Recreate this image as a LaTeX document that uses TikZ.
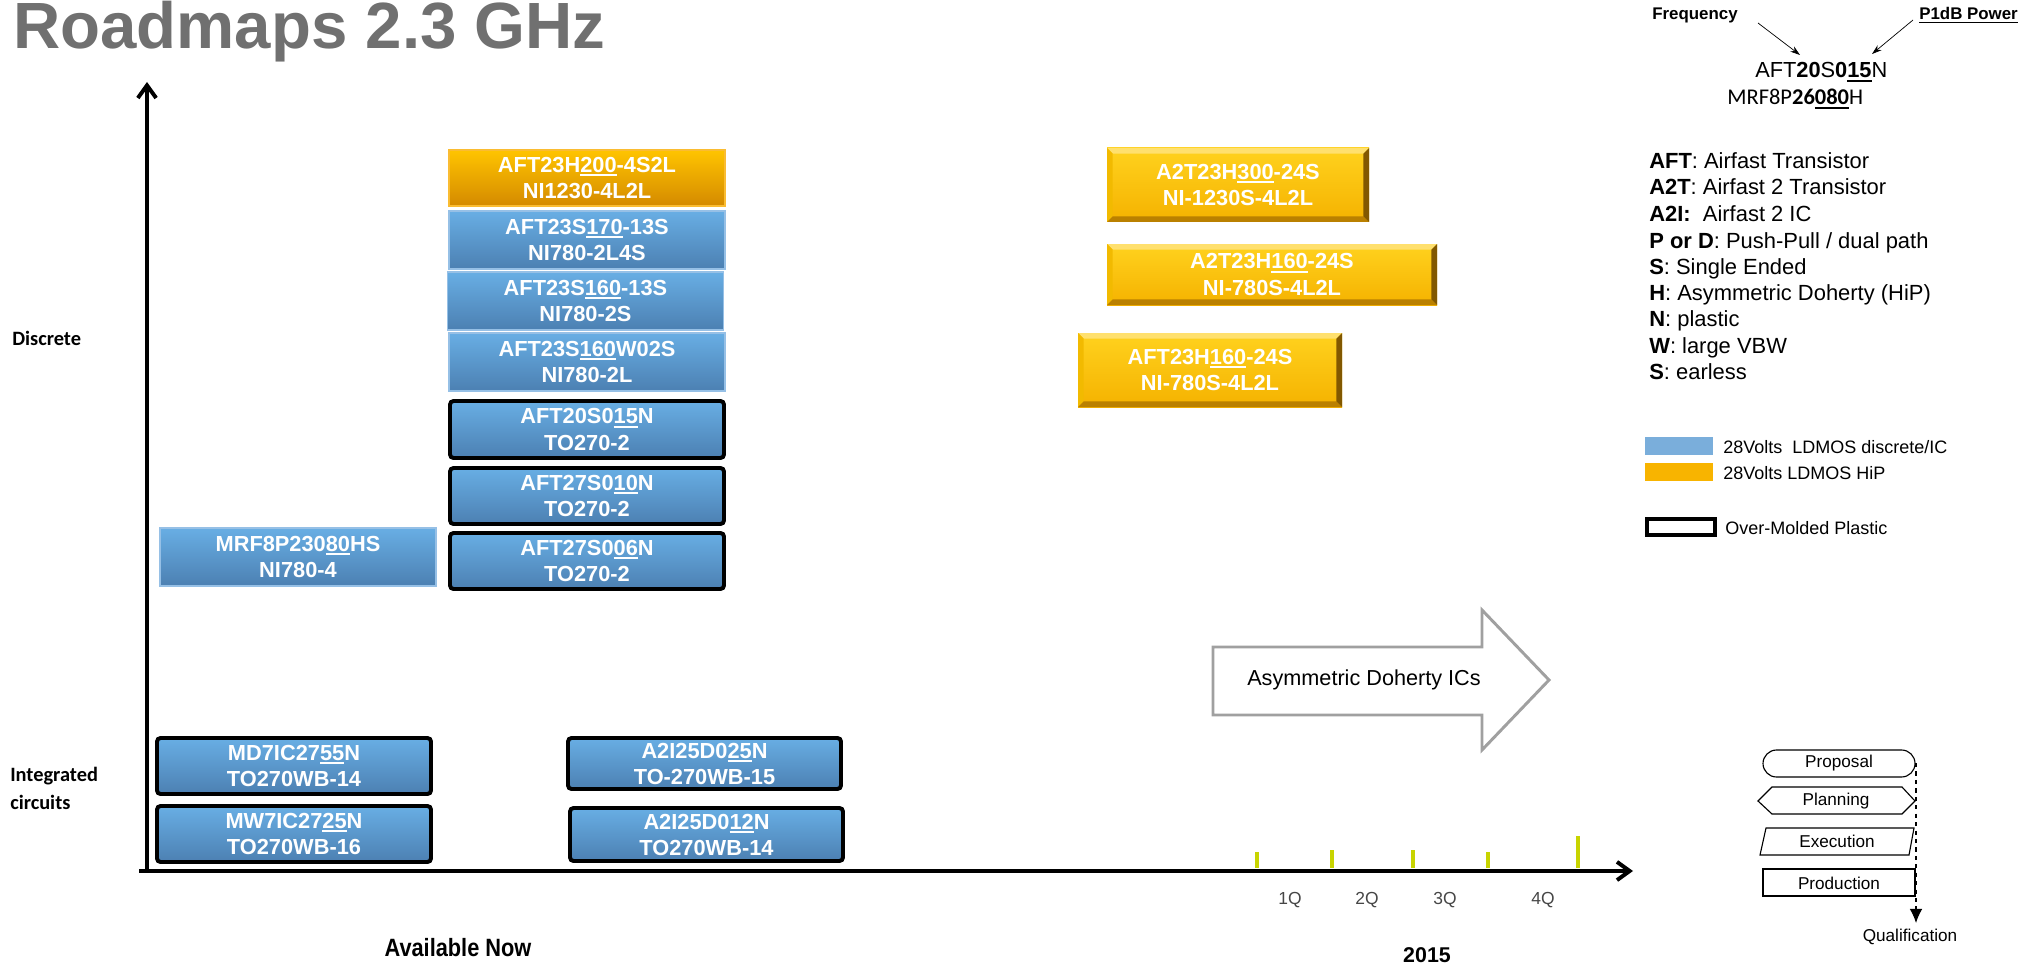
\documentclass[tikz,border=0pt]{standalone}
\usepackage{fontspec}
\setmainfont{Liberation Sans}
\newfontfamily\calibri{Carlito}
\usetikzlibrary{arrows.meta}

\definecolor{titlegray}{RGB}{112,112,112}
\definecolor{bluetop}{RGB}{104,174,228}
\definecolor{bluebot}{RGB}{76,128,178}
\definecolor{blueedge}{RGB}{150,192,230}
\definecolor{hiptop}{RGB}{255,196,0}
\definecolor{hipbot}{RGB}{212,138,0}
\definecolor{hipedge}{RGB}{250,188,50}
\definecolor{goldtop}{RGB}{255,210,30}
\definecolor{goldbot}{RGB}{245,178,0}
\definecolor{goldlight}{RGB}{255,224,110}
\definecolor{goldmid}{RGB}{242,186,0}
\definecolor{golddark}{RGB}{186,128,0}
\definecolor{goldshade}{RGB}{130,88,0}
\definecolor{swatchblue}{RGB}{122,174,219}
\definecolor{swatchgold}{RGB}{248,180,0}
\definecolor{tickgreen}{RGB}{200,212,0}
\definecolor{arrowgray}{RGB}{160,160,160}
\definecolor{qgray}{RGB}{70,70,70}

% thick bar under the power digits
\newcommand\pwr[1]{\setbox0\hbox{#1}\rlap{\rule[-2.6pt]{\wd0}{1.3pt}}\box0}

\tikzset{
  wh/.style 2 args={minimum width=#1*0.025cm, minimum height=#2*0.025cm},
  part/.style={rectangle, inner sep=0pt, align=center, text=white,
    font=\fontsize{15.5}{18.5}\selectfont\bfseries},
  ldmos/.style={part, top color=bluetop, bottom color=bluebot, draw=blueedge, line width=1.2pt},
  molded/.style={part, top color=bluetop, bottom color=bluebot, draw=black, line width=2.8pt, rounded corners=2.5pt},
  hipflat/.style={part, top color=hiptop, bottom color=hipbot, draw=hipedge, line width=1.2pt},
  hip/.style={part, top color=goldtop, bottom color=goldbot,
    path picture={
      \fill[goldlight] (path picture bounding box.north west) -- (path picture bounding box.north east)
        -- ([xshift=-4pt,yshift=-4pt]path picture bounding box.north east)
        -- ([xshift=4pt,yshift=-4pt]path picture bounding box.north west) -- cycle;
      \fill[goldmid] (path picture bounding box.north west) -- (path picture bounding box.south west)
        -- ([xshift=4pt,yshift=4pt]path picture bounding box.south west)
        -- ([xshift=4pt,yshift=-4pt]path picture bounding box.north west) -- cycle;
      \fill[golddark] (path picture bounding box.south west) -- (path picture bounding box.south east)
        -- ([xshift=-4pt,yshift=4pt]path picture bounding box.south east)
        -- ([xshift=4pt,yshift=4pt]path picture bounding box.south west) -- cycle;
      \fill[goldshade] (path picture bounding box.north east) -- (path picture bounding box.south east)
        -- ([xshift=-4pt,yshift=4pt]path picture bounding box.south east)
        -- ([xshift=-4pt,yshift=-4pt]path picture bounding box.north east) -- cycle;
    }},
  axis/.style={line width=2.8pt, -{Straight Barb[length=9pt,width=13pt]}},
  qtick/.style={tickgreen, line width=2.8pt},
  qlabel/.style={text=qgray, font=\fontsize{12.4}{14}\selectfont},
  defn/.style={anchor=base west, inner sep=0pt, font=\fontsize{15.6}{18}\selectfont},
  keytext/.style={anchor=base west, inner sep=0pt, font=\fontsize{12.8}{15}\selectfont},
  pointer/.style={line width=0.5pt, -{Stealth[length=7pt,width=4.5pt]}},
  status/.style={draw=black, line width=0.8pt},
  statuslabel/.style={inner sep=0pt, font=\fontsize{12.2}{14}\selectfont},
  row/.style={anchor=west, inner sep=0pt, align=left, font=\calibri\bfseries\fontsize{14.5}{20}\selectfont},
}

\begin{document}
\begin{tikzpicture}[x=0.025cm, y=-0.025cm]
\useasboundingbox (0,0) rectangle (2039,965);

\node[anchor=base west, inner sep=0pt, text=titlegray, font=\fontsize{46.5}{50}\selectfont\bfseries] (title) at (13,49) {Roadmaps 2.3 GHz};

% axes
\coordinate (origin) at (147,871);
\coordinate (ytop) at (147,82);
\coordinate (xleft) at (139,871);
\coordinate (xend) at (1633,871);
\draw[axis] (origin) -- (ytop);
\draw[axis] (xleft) -- (xend);

\node[row] (discrete) at (12,338) {Discrete};
\node[row] (ics) at (10,788) {Integrated\\circuits};
\node[inner sep=0pt, font=\fontsize{17.8}{20}\selectfont\bfseries] (now) at (458,948) {\scalebox{0.87}[1]{Available Now}};
\node[inner sep=0pt, font=\fontsize{15.2}{18}\selectfont\bfseries] (year) at (1427,955) {2015};

% quarters of 2015
\foreach \x/\t in {1257/852, 1332/850, 1413/850, 1488/852, 1578/836}
  \draw[qtick] (\x,\t) -- (\x,868);
\foreach \q/\x in {1/1290, 2/1367, 3/1445, 4/1543}
  \node[qlabel] (q\q) at (\x,900) {\q Q};

% discrete parts available now
\node[ldmos, wh={276}{58}] (mrf23080) at (298,557) {MRF8P230\pwr{80}HS\\NI780-4};
\node[hipflat, wh={276}{56}] (aft200) at (587,178) {AFT23H\pwr{200}-4S2L\\NI1230-4L2L};
\node[ldmos, wh={276}{58}] (aft170) at (587,240) {AFT23S\pwr{170}-13S\\NI780-2L4S};
\node[ldmos, wh={276}{58}] (aft160) at (585.5,301) {AFT23S\pwr{160}-13S\\NI780-2S};
\node[ldmos, wh={276}{58}] (aft160w) at (587,362) {AFT23S\pwr{160}W02S\\NI780-2L};
\node[molded, wh={274}{57}] (aft015) at (587,429.5) {AFT20S0\pwr{15}N\\TO270-2};
\node[molded, wh={274}{56}] (aft010) at (587,496) {AFT27S0\pwr{10}N\\TO270-2};
\node[molded, wh={274}{56}] (aft006) at (587,561) {AFT27S0\pwr{06}N\\TO270-2};

% integrated circuits
\node[molded, wh={274}{56}] (md7) at (294,766) {MD7IC27\pwr{55}N\\TO270WB-14};
\node[molded, wh={274}{56}] (mw7) at (294,834) {MW7IC27\pwr{25}N\\TO270WB-16};
\node[molded, wh={273}{51}] (a2i025) at (704.5,763.5) {A2I25D0\pwr{25}N\\TO-270WB-15};
\node[molded, wh={273}{53}] (a2i012) at (706.5,834.5) {A2I25D0\pwr{12}N\\TO270WB-14};

% HiP parts in 2015
\node[hip, wh={262}{74}] (a2t300) at (1238,185) {A2T23H\pwr{300}-24S\\NI-1230S-4L2L};
\node[hip, wh={330}{61}] (a2t160) at (1272,274.5) {A2T23H\pwr{160}-24S\\NI-780S-4L2L};
\node[hip, wh={264}{74}] (aft160h) at (1210,370) {AFT23H\pwr{160}-24S\\NI-780S-4L2L};

% block arrow
\draw[arrowgray, line width=2.1pt] (1213,647) -- (1482,647) -- (1482,610) -- (1549,680)
  -- (1482,750) -- (1482,715) -- (1213,715) -- cycle;
\node[inner sep=0pt, font=\fontsize{15.4}{18}\selectfont] (doherty) at (1364,680) {Asymmetric Doherty ICs};

% naming key
\node[anchor=base west, inner sep=0pt, font=\fontsize{12}{14}\selectfont\bfseries] (freq) at (1652,20) {Frequency};
\node[anchor=base west, inner sep=0pt, font=\fontsize{12}{14}\selectfont\bfseries] (p1db) at (1919,20) {\underline{P1dB Power}};
\node[anchor=base west, inner sep=0pt, font=\fontsize{15.5}{18}\selectfont] (code1) at (1755,78) {AFT\textbf{20}S\textbf{0\pwr{15}}N};
\node[anchor=base west, inner sep=0pt, font=\calibri\fontsize{16}{18}\selectfont] (code2) at (1727,105) {MRF8P\textbf{26\pwr{080}}H};
\coordinate (f0) at (1758,23);
\coordinate (f1) at (1800,55);
\coordinate (p0) at (1913,20);
\coordinate (p1) at (1872,54);
\draw[pointer] (f0) -- (f1);
\draw[pointer] (p0) -- (p1);

\node[defn] (d1) at (1649,169) {\textbf{AFT}: Airfast Transistor};
\node[defn] (d2) at (1649,195) {\textbf{A2T}: Airfast 2 Transistor};
\node[defn] (d3) at (1649,221.5) {\textbf{A2I:}\ \ Airfast 2 IC};
\node[defn] (d4) at (1649,248) {\textbf{P or D}: Push-Pull / dual path};
\node[defn] (d5) at (1649,274) {\textbf{S}: Single Ended};
\node[defn] (d6) at (1649,300) {\textbf{H}: Asymmetric Doherty (HiP)};
\node[defn] (d7) at (1649,326.5) {\textbf{N}: plastic};
\node[defn] (d8) at (1649,353) {\textbf{W}: large VBW};
\node[defn] (d9) at (1649,379) {\textbf{S}: earless};

\fill[swatchblue] (1645,437) rectangle (1713,455);
\fill[swatchgold] (1645,463) rectangle (1713,481);
\draw[line width=2.2pt] (1647,519) rectangle (1715,535);
\node[keytext] (k1) at (1723,453) {28Volts\ \ LDMOS discrete/IC};
\node[keytext] (k2) at (1723,479) {28Volts LDMOS HiP};
\node[keytext] (k3) at (1725,534) {Over-Molded Plastic};

% status shapes
\draw[status, rounded corners=13.5*0.025cm] (1763,750) rectangle (1915,777);
\draw[status] (1758,801) -- (1772,787) -- (1902,787) -- (1915,801) -- (1902,814) -- (1772,814) -- cycle;
\draw[status] (1766,828) -- (1914,828) -- (1909,855) -- (1760,855) -- cycle;
\draw[status] (1763,869) rectangle (1915,896);
\node[statuslabel] (proposal) at (1839,763) {Proposal};
\node[statuslabel] (planning) at (1836,801) {Planning};
\node[statuslabel] (execution) at (1837,841) {Execution};
\node[statuslabel] (production) at (1839,883) {Production};
\coordinate (qtop) at (1916,763);
\coordinate (qend) at (1916,923);
\draw[line width=0.8pt, dashed, -{Latex[length=10pt,width=9pt]}] (qtop) -- (qend);
\node[statuslabel] (qual) at (1910,937) {Qualification};
\end{tikzpicture}
\end{document}
